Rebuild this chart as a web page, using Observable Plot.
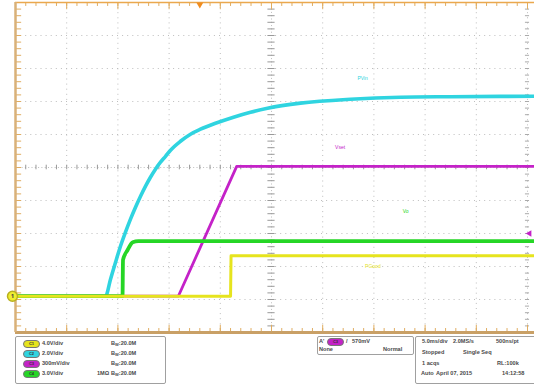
<!DOCTYPE html>
<html><head><meta charset="utf-8">
<script src="https://cdn.jsdelivr.net/npm/d3@7"></script>
<script src="https://cdn.jsdelivr.net/npm/@observablehq/plot@0.6"></script>
<style>
body{margin:0;background:#fff;font-family:"Liberation Sans",Arial,sans-serif;}
#wrap{position:relative;width:534px;height:385px;overflow:hidden;background:#fff;}
#chart svg{display:block;}
#panel{position:relative;width:534px;height:50px;}
.box{position:absolute;border:1px solid #a0a0a0;border-radius:2px;}
.t{position:absolute;font-size:5.6px;line-height:7px;color:#4a4a4a;white-space:nowrap;font-weight:bold;}
.t sub{font-size:4px;vertical-align:-1px;}
.ov{position:absolute;width:15px;height:6px;border-radius:4px;font-size:4px;text-align:center;line-height:6px;color:#333;font-weight:bold;}
</style></head><body><div id="wrap"><div id="chart"></div><div id="panel"></div></div>
<script>
// ---- data (time in ms, volts per channel) ----
const cyanT = [0, 8.79, 9.28, 9.77, 10.25, 10.74, 11.23, 11.72, 12.21, 12.7, 13.18, 13.67, 14.16, 14.65, 15.14, 16.11, 17.09, 18.07, 19.53, 21.29, 22.95, 24.61, 27.83, 32.71, 37.6, 42.48, 50.7];
const cyanV = [0, 0, 1.03, 2.06, 3.03, 3.88, 4.67, 5.39, 6.06, 6.67, 7.21, 7.7, 8.12, 8.48, 8.85, 9.39, 9.82, 10.12, 10.48, 10.85, 11.15, 11.39, 11.7, 11.94, 12.06, 12.09, 12.12];
const magT = [0, 15.9, 21.6, 50.7];
const magV = [0, 0, 1.18, 1.18];
const greenT = [0, 10.45, 10.5, 10.95, 11.45, 12.0, 50.7];
const greenV = [0, 0, 3.3, 4.2, 4.9, 5.0, 5.0];
const yellowT = [0, 21.0, 21.05, 50.7];
const yellowV = [0, 0, 4.9, 4.9];

const chNames = ["C1", "C2", "C3", "C4"];
const chScales = ["4.0V/div", "2.0V/div", "300mV/div", "3.0V/div"];
const chVperDiv = [4.0, 2.0, 0.3, 3.0];
const chColors = ["#e6e41e", "#2fd4e0", "#c422c8", "#26d626"];
const chTerm = ["", "", "", "1MΩ"];
const groundDiv = -3.9;

const labelText = ["PVin", "Vset", "Vo", "PGood"];
const labelCh = [1, 2, 3, 0];
const labelT = [33.9, 31.7, 38.1, 34.9];
const labelDiv = [2.7, 0.61, -1.33, -3.0];

const triggerT = 18.0;
const triggerLevelV = 0.57; // on C3
const msPerDiv = 5;

const series = (T, V, ch) => T.map((t, i) => ({t, y: groundDiv + V[i] / chVperDiv[ch], ch}));
const cyan = series(cyanT, cyanV, 1);
const mag = series(magT, magV, 2);
const green = series(greenT, greenV, 3);
const yellow = series(yellowT, yellowV, 0);

const divX = d3.range(0, 50.001, msPerDiv);
const divY = d3.range(-5, 5.001, 1);
const minorX = d3.range(0, 50.001, msPerDiv / 5);
const minorY = d3.range(-5, 5.001, 0.2);
const labels = labelText.map((s, i) => ({s, t: labelT[i], y: labelDiv[i], c: chColors[labelCh[i]]}));

const frameCol = "#e0ad62";
const gridCol = "#bdbdbd";

const plot = Plot.plot({
  width: 534, height: 335,
  marginLeft: 15, marginRight: 7, marginTop: 2, marginBottom: 3,
  x: {domain: [0, 50], axis: null},
  y: {domain: [-5, 5], axis: null},
  style: {background: "#fff", overflow: "visible"},
  marks: [
    Plot.ruleX(divX.slice(1).filter(d => d !== 25), {x: d => d, stroke: gridCol, strokeDasharray: "1,4.1"}),
    Plot.ruleY(divY.slice(1, -1).filter(d => d !== 0), {y: d => d, x1: 0, x2: 50, stroke: gridCol, strokeDasharray: "1,4.1"}),
    Plot.ruleX([25], {stroke: gridCol, strokeDasharray: "1,2.3"}),
    Plot.ruleY([0], {x1: 0, x2: 50, stroke: gridCol, strokeDasharray: "1,2.3"}),
    Plot.ruleX(minorX, {x: d => d, y1: -0.07, y2: 0.07, stroke: "#999"}),
    Plot.ruleY(minorY, {y: d => d, x1: 24.65, x2: 25.35, stroke: "#999"}),
    Plot.ruleY(minorY, {y: d => d, x1: 49.8, x2: 50.2, stroke: "#aaa"}),
    // border minor ticks
    Plot.ruleX(minorX, {x: d => d, y1: 5, y2: 4.88, stroke: frameCol}),
    Plot.ruleX(minorX, {x: d => d, y1: -5, y2: -4.88, stroke: frameCol}),
    Plot.ruleY(minorY, {y: d => d, x1: 0, x2: 0.6, stroke: frameCol}),
    Plot.ruleX(divX, {x: d => d, y1: 5, y2: 4.78, stroke: frameCol}),
    Plot.ruleX(divX, {x: d => d, y1: -5, y2: -4.78, stroke: frameCol}),
    Plot.ruleY([5], {x1: 0, x2: 52, stroke: "#eaa84e", strokeWidth: 1.5}),
    Plot.ruleY([-5], {x1: 0, x2: 52, stroke: "#c9a066", strokeWidth: 3}),
    Plot.ruleX([0], {stroke: "#d9b178", strokeWidth: 2.5}),
    // traces
    Plot.line(cyan, {x: "t", y: "y", stroke: chColors[1], strokeWidth: 3.6, curve: "monotone-x"}),
    Plot.line(mag, {x: "t", y: "y", stroke: chColors[2], strokeWidth: 2.8}),
    Plot.line(green, {x: "t", y: "y", stroke: chColors[3], strokeWidth: 3.8, curve: "monotone-x"}),
    Plot.line(yellow, {x: "t", y: "y", stroke: chColors[0], strokeWidth: 3}),
    // labels
    Plot.text(labels, {x: "t", y: "y", text: "s", fill: "c", fontSize: 5, fontFamily: "Liberation Sans, Arial, sans-serif"}),
    // trigger position marker
    Plot.dot([triggerT], {x: d => d, y: 5, symbol: "triangle", rotate: 180, r: 2.6, fill: "#f08c1e", dy: 2}),
    // trigger level marker
    Plot.dot([triggerLevelV], {x: 50, y: d => groundDiv + d / chVperDiv[2], symbol: "triangle", rotate: -90, r: 2.4, fill: chColors[2], dx: 2}),
    // channel 1 ground marker
    Plot.dot([0], {x: 0, y: groundDiv, r: 5, fill: "#f0ee30", stroke: "#b8b020", dx: -3}),
    Plot.text(["1"], {x: 0, y: groundDiv, text: d => d, fontSize: 6, fill: "#444", dx: -3, fontWeight: "bold"})
  ]
});
document.getElementById("chart").append(plot);

// ---- bottom status panel ----
const panel = document.getElementById("panel");
function add(html, cls, left, top, extra) {
  const e = document.createElement("div");
  e.className = cls; e.innerHTML = html;
  e.style.left = left + "px"; e.style.top = top + "px";
  if (extra) Object.assign(e.style, extra);
  panel.append(e); return e;
}
add("", "box", 15, 1, {width: "149px", height: "46px"});
add("", "box", 317, 1, {width: "95px", height: "17px"});
add("", "box", 415, 1, {width: "125px", height: "46px"});
const rowTop = [4.5, 14.5, 24.5, 34.5];
chNames.forEach((n, i) => {
  add(n, "ov", 23, rowTop[i] + 0.5, {background: chColors[i], border: "0.5px solid #777"});
  add(chScales[i], "t", 42, rowTop[i]);
  if (chTerm[i]) add(chTerm[i], "t", 97, rowTop[i]);
  add("B<sub>W</sub>:20.0M", "t", 111, rowTop[i]);
});
add("A'", "t", 319, 2.5);
add("C3", "ov", 327, 3, {background: chColors[2], border: "0.5px solid #777"});
add("/", "t", 346, 2.5);
add("570mV", "t", 352, 2.5);
add("None", "t", 319, 10.5);
add("Normal", "t", 383, 10.5);
add("5.0ms/div", "t", 422, 2.5);
add("2.0MS/s", "t", 453, 2.5);
add("500ns/pt", "t", 496, 2.5);
add("Stopped", "t", 422, 14);
add("Single Seq", "t", 463, 14);
add("1 acqs", "t", 422, 24.5);
add("RL:100k", "t", 497, 24.5);
add("Auto", "t", 421, 35);
add("April 07, 2015", "t", 436, 35);
add("14:12:58", "t", 502, 35);
</script>
</body></html>
